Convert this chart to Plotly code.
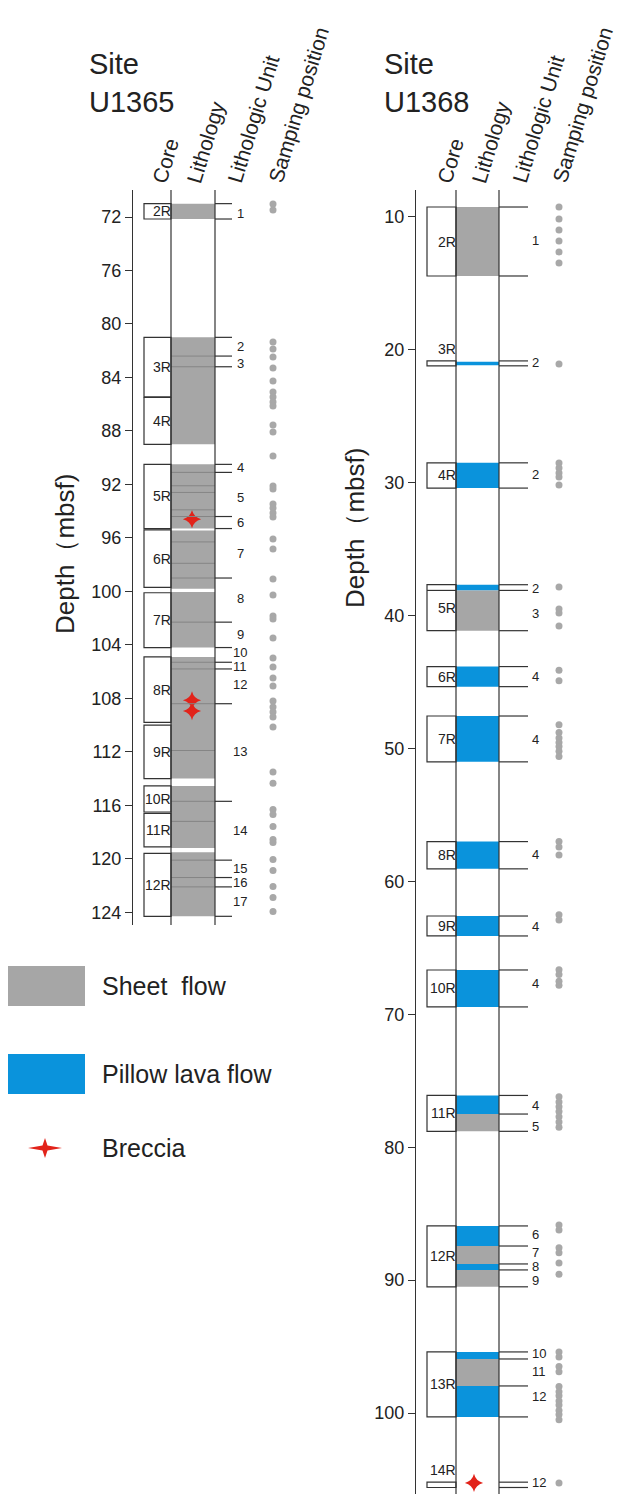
import plotly.graph_objects as go

W, H = 617, 1494
FONT = "Liberation Sans, Arial, sans-serif"
INK = "#333333"
GRAY = "#a6a6a6"
BLUE = "#0a93dc"
DOT = "#a8a8a8"
RED = "#e2231a"

# ---------------- Site U1365 (left) ----------------
L_core_names = ["2R", "3R", "4R", "5R", "6R", "7R", "8R", "9R", "10R", "11R", "12R"]
L_core_top = [71.0, 81.0, 85.5, 90.5, 95.4, 100.1, 104.9, 110.0, 114.55, 116.6, 119.6]
L_core_bot = [72.15, 85.45, 89.0, 95.3, 99.7, 104.2, 109.8, 114.0, 116.5, 119.1, 124.3]

L_lith_top = [71.0, 81.0, 90.5, 95.45, 100.05, 104.9, 114.55, 119.5]
L_lith_bot = [72.15, 89.0, 95.3, 99.8, 104.2, 114.0, 119.2, 124.3]
L_lith_type = ["sheet"] * 8

L_inner_lines = [82.4, 83.2, 91.1, 92.1, 92.6, 93.9, 94.4, 96.3, 97.9, 99.0, 102.3,
                 105.3, 105.8, 108.4, 111.9, 115.7, 117.2, 120.1, 121.4, 122.1]
L_unit_bounds = [71.0, 72.15, 81.0, 82.4, 83.2, 90.5, 91.1, 94.4, 95.3, 99.0, 102.3,
                 104.2, 105.3, 105.8, 108.4, 115.7, 120.1, 121.4, 122.1, 124.3]
L_unit_labels = [str(i) for i in range(1, 18)]
L_unit_label_depth = [71.7, 81.72, 82.92, 90.77, 92.94, 94.81, 97.13, 100.5, 103.19,
                      104.55, 105.6, 107.0, 111.94, 117.85, 120.69, 121.74, 123.16]
L_samples = [71.03, 71.48, 81.35, 81.87, 82.47, 83.29, 84.27, 85.09, 85.46, 85.84, 86.14,
             87.56, 88.08, 89.88, 92.12, 92.34, 93.47, 93.77, 94.14, 94.44, 96.08, 96.83,
             99.08, 100.27, 101.84, 102.07, 103.49, 104.98, 105.66, 106.48, 107.08, 108.20,
             108.65, 109.02, 109.40, 110.15, 113.51, 114.34, 116.31, 116.69, 117.58, 118.55,
             118.78, 120.05, 120.87, 122.07, 122.89, 123.94]
L_breccia = [94.6, 108.15, 108.95]
L_ticks = list(range(72, 125, 4))

# ---------------- Site U1368 (right) ----------------
R_core_names = ["2R", "3R", "4R", "5R", "6R", "7R", "8R", "9R", "10R", "11R", "12R", "13R", "14R"]
R_core_top = [9.25, 20.83, 28.5, 37.67, 43.83, 47.55, 57.0, 62.6, 66.66, 76.1, 85.92, 95.4, 105.2]
R_core_bot = [14.44, 21.2, 30.4, 41.13, 45.34, 51.0, 59.05, 64.1, 69.44, 78.8, 90.5, 100.29, 105.6]
R_core_inner = [38.1]

R_lith_top = [9.25, 20.9, 28.5, 37.67, 38.1, 43.83, 47.55, 57.0, 62.6, 66.66, 76.1, 77.5,
              85.92, 87.43, 88.78, 89.23, 95.4, 95.93, 97.96]
R_lith_bot = [14.44, 21.15, 30.4, 38.1, 41.13, 45.34, 51.0, 59.05, 64.1, 69.44, 77.5, 78.8,
              87.43, 88.78, 89.23, 90.5, 95.93, 97.96, 100.29]
R_lith_type = ["sheet", "pillow", "pillow", "pillow", "sheet", "pillow", "pillow", "pillow",
               "pillow", "pillow", "pillow", "sheet", "pillow", "sheet", "pillow", "sheet",
               "pillow", "sheet", "pillow"]
R_unit_bounds = [9.25, 14.44, 20.83, 21.2, 28.5, 30.4, 37.67, 38.1, 41.13, 43.83, 45.34,
                 47.55, 51.0, 57.0, 59.05, 62.6, 64.1, 66.66, 69.44, 76.1, 77.5, 78.8,
                 85.92, 87.43, 88.78, 89.23, 90.5, 95.4, 95.93, 97.96, 100.29, 105.2, 105.6]
R_unit_labels = ["1", "2", "2", "2", "3", "4", "4", "4", "4", "4", "4", "5",
                 "6", "7", "8", "9", "10", "11", "12", "12"]
R_unit_label_depth = [11.8, 20.98, 29.41, 37.99, 39.8, 44.54, 49.35, 58.0, 63.42, 67.7,
                      76.82, 78.4, 86.6, 87.95, 89.0, 90.05, 95.55, 96.9, 98.79, 105.26]
R_samples = [9.25, 10.15, 10.98, 11.8, 12.63, 13.46, 21.06, 28.51, 28.89, 29.26, 29.56, 30.17,
             37.84, 39.5, 39.8, 40.77, 44.1, 44.9, 48.2, 48.8, 49.2, 49.55, 49.85, 50.2, 50.6,
             57.0, 57.4, 58.0, 62.5, 62.9, 66.65, 67.0, 67.5, 67.8,
             76.2, 76.6, 76.95, 77.3, 77.7, 78.1, 78.5,
             85.85, 86.22, 87.57, 87.94, 88.7, 89.55,
             95.4, 95.78, 96.5, 96.9, 98.0, 98.4, 98.7, 99.1, 99.4, 99.8, 100.1, 100.5, 105.26]
R_breccia = [105.26]
R_ticks = list(range(10, 101, 10))

headers = ["Core", "Lithology", "Lithologic Unit", "Samping position"]
legend_names = ["Sheet  flow", "Pillow lava flow", "Breccia"]
FILL = {"sheet": GRAY, "pillow": BLUE}


def pf(px):
    return 1 - px / H


fig = go.Figure()
shapes = []
annots = []

panels = [
    dict(yref="y", names=L_core_names, top=L_core_top, bot=L_core_bot,
         ltop=L_lith_top, lbot=L_lith_bot, ltype=L_lith_type, inner=L_inner_lines,
         core_inner=[], bounds=L_unit_bounds, ulab=L_unit_labels, udep=L_unit_label_depth,
         samples=L_samples, breccia=L_breccia,
         xc=(144, 171), xl=(171, 215), xt=232, xs=273, xcl=173, xul=240, ulanchor="center", xbr=192),
    dict(yref="y2", names=R_core_names, top=R_core_top, bot=R_core_bot,
         ltop=R_lith_top, lbot=R_lith_bot, ltype=R_lith_type, inner=[],
         core_inner=R_core_inner, bounds=R_unit_bounds, ulab=R_unit_labels, udep=R_unit_label_depth,
         samples=R_samples, breccia=R_breccia,
         xc=(427, 456), xl=(456, 499), xt=528, xs=559, xcl=458, xul=531, ulanchor="left", xbr=474),
]

for p in panels:
    yr = p["yref"]
    ax = "y" if yr == "y" else "y2"
    # lithology fills
    for t, b, k in zip(p["ltop"], p["lbot"], p["ltype"]):
        shapes.append(dict(type="rect", xref="x", yref=yr, x0=p["xl"][0], x1=p["xl"][1],
                           y0=t, y1=b, fillcolor=FILL[k], line=dict(width=0), layer="below"))
    # inner lines within lithology
    for d in p["inner"]:
        shapes.append(dict(type="line", xref="x", yref=yr, x0=p["xl"][0], x1=p["xl"][1],
                           y0=d, y1=d, line=dict(color="#858585", width=1)))
    # core boxes
    for n, t, b in zip(p["names"], p["top"], p["bot"]):
        shapes.append(dict(type="rect", xref="x", yref=yr, x0=p["xc"][0], x1=p["xc"][1],
                           y0=t, y1=b, line=dict(color=INK, width=1.2)))
        if b - t > 1:
            ly, ya = (t + b) / 2, "middle"
        else:
            ly, ya = t - 0.15, "bottom"
        annots.append(dict(x=p["xcl"], y=ly, xref="x", yref=yr, text=n, showarrow=False,
                           xanchor="right", yanchor=ya, font=dict(size=14, color="#222")))
    for d in p["core_inner"]:
        shapes.append(dict(type="line", xref="x", yref=yr, x0=p["xc"][0], x1=p["xl"][0],
                           y0=d, y1=d, line=dict(color=INK, width=1.2)))
    # unit boundaries
    for d in p["bounds"]:
        shapes.append(dict(type="line", xref="x", yref=yr, x0=p["xl"][1], x1=p["xt"],
                           y0=d, y1=d, line=dict(color=INK, width=1.2)))
    # lithology column borders across the whole axis
    for xx in p["xl"]:
        shapes.append(dict(type="line", xref="x", yref=yr + " domain", x0=xx, x1=xx,
                           y0=0, y1=1, line=dict(color=INK, width=1.2)))
    # unit labels
    for s, d in zip(p["ulab"], p["udep"]):
        annots.append(dict(x=p["xul"], y=d, xref="x", yref=yr, text=s, showarrow=False,
                           xanchor=p["ulanchor"], yanchor="middle", borderpad=0,
                           font=dict(size=13, color="#222")))
    # sample dots
    fig.add_trace(go.Scatter(x=[p["xs"]] * len(p["samples"]), y=p["samples"], yaxis=ax,
                             mode="markers", cliponaxis=False, showlegend=False,
                             marker=dict(size=7, color=DOT, line=dict(width=0))))
    # breccia
    fig.add_trace(go.Scatter(x=[p["xbr"]] * len(p["breccia"]), y=p["breccia"], yaxis=ax,
                             mode="markers", cliponaxis=False, showlegend=False,
                             marker=dict(size=13, symbol="star-diamond", color=RED,
                                         line=dict(width=0))))

# headers
site_pos = [(87, "Site<br>U1365"), (382, "Site<br>U1368")]
for x0, t in site_pos:
    annots.append(dict(x=x0, y=pf(46), xref="x", yref="paper", text=t, showarrow=False,
                       xanchor="left", yanchor="top", align="left",
                       font=dict(size=29, color="#222")))
hdr_x = [[145, 180, 220, 261], [430, 465, 505, 545]]
for xs in hdr_x:
    for x0, t in zip(xs, headers):
        annots.append(dict(x=x0, y=pf(188), xref="x", yref="paper", text=t, showarrow=False,
                           textangle=-73, xanchor="left", yanchor="bottom",
                           font=dict(size=21, color="#222")))
# axis titles
for x0, yc in [(65, 554), (355, 528)]:
    annots.append(dict(x=x0, y=pf(yc), xref="x", yref="paper", text="Depth（mbsf)",
                       showarrow=False, textangle=-90, xanchor="center", yanchor="middle",
                       font=dict(size=26, color="#222")))

# legend
shapes.append(dict(type="rect", xref="x", yref="paper", x0=8, x1=85, y0=pf(1006), y1=pf(966),
                   fillcolor=GRAY, line=dict(width=0)))
shapes.append(dict(type="rect", xref="x", yref="paper", x0=8, x1=85, y0=pf(1094), y1=pf(1054),
                   fillcolor=BLUE, line=dict(width=0)))
cx, cy, w, h, i = 45, 1148, 17, 10, 2.5
pts = [(cx - w, cy), (cx - i, cy - i), (cx, cy - h), (cx + i, cy - i), (cx + w, cy),
       (cx + i, cy + i), (cx, cy + h), (cx - i, cy + i)]
path = "M " + " L ".join(f"{x},{pf(y)}" for x, y in pts) + " Z"
shapes.append(dict(type="path", xref="x", yref="paper", path=path, fillcolor=RED,
                   line=dict(width=0)))
for t, yc in zip(legend_names, [986, 1074, 1148]):
    annots.append(dict(x=100, y=pf(yc), xref="x", yref="paper", text=t, showarrow=False,
                       xanchor="left", yanchor="middle", font=dict(size=25, color="#222")))

axis_common = dict(showgrid=False, zeroline=False, showline=True, linecolor=INK, linewidth=1.2,
                   ticks="outside", ticklen=7, tickwidth=1.2, tickcolor=INK,
                   tickfont=dict(size=18, color="#222"), anchor="free", fixedrange=True)

fig.update_layout(
    width=W, height=H, margin=dict(l=0, r=0, t=0, b=0),
    paper_bgcolor="white", plot_bgcolor="rgba(0,0,0,0)",
    font=dict(family=FONT),
    xaxis=dict(range=[0, W], domain=[0, 1], visible=False, fixedrange=True),
    yaxis=dict(range=[124.95, 69.98], domain=[pf(925), pf(190)], position=132 / W,
               tickvals=L_ticks, **axis_common),
    yaxis2=dict(range=[106.09, 7.97], domain=[0, pf(190)], position=415 / W,
                tickvals=R_ticks, **axis_common),
    shapes=shapes, annotations=annots, showlegend=False,
)

fig.write_html("out.html")
